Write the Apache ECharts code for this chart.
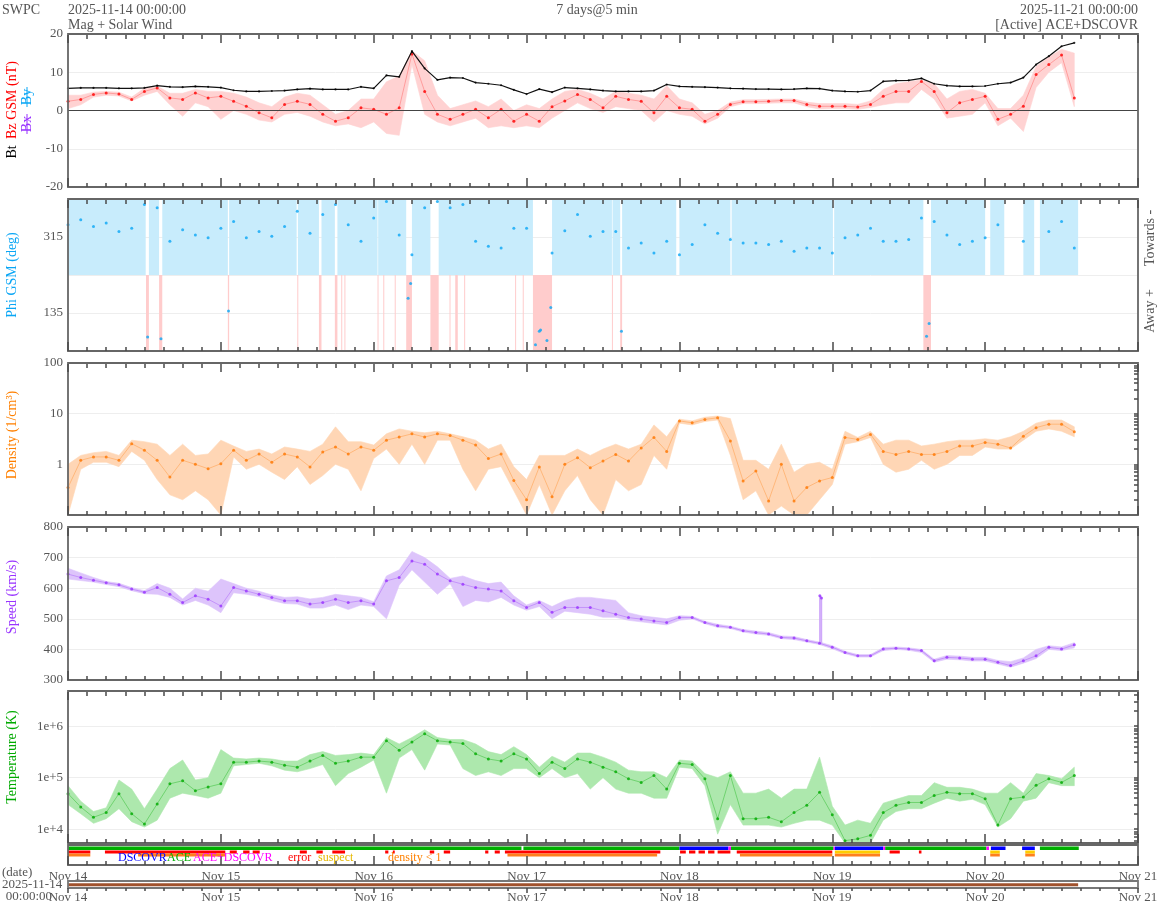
<!DOCTYPE html>
<html><head><meta charset="utf-8">
<script src="https://cdn.jsdelivr.net/npm/echarts@6/dist/echarts.min.js"></script>
<style>html,body{margin:0;padding:0;background:#fff}#c{width:1158px;height:905px}</style>
</head><body><div id="c"></div>
<script>
// ---------- DATA (hours since 2025-11-14 00:00, 2-hour samples) ----------
const hours = [0,2,4,6,8,10,12,14,16,18,20,22,24,26,28,30,32,34,36,38,40,42,44,46,48,50,52,54,56,58,60,62,64,66,68,70,72,74,76,78,80,82,84,86,88,90,92,94,96,98,100,102,104,106,108,110,112,114,116,118,120,122,124,126,128,130,132,134,136,138,140,142,144,146,148,150,152,154,156,158];
const dayLabels = ['Nov 14','Nov 15','Nov 16','Nov 17','Nov 18','Nov 19','Nov 20','Nov 21'];
const dayTicks = [0,24,48,72,96,120,144,168];
const hourTicks = [3,6,9,12,15,18,21,27,30,33,36,39,42,45,51,54,57,60,63,66,69,75,78,81,84,87,90,93,99,102,105,108,111,114,117,123,126,129,132,135,138,141,147,150,153,156,159,162,165];

const btVals = [5.8,5.9,5.9,5.9,5.8,5.8,5.9,6.5,6.2,6.1, 6.3,6.2,6.0,5.3,5.0,5.0,5.1,5.2,5.5,5.7, 5.5,5.5,5.5,6.2,5.8,9.2,8.8,15.5,11.0,8.0, 8.6,8.5,7.3,7.0,6.6,5.4,4.3,5.6,4.8,6.0, 5.8,5.5,5.2,5.0,5.0,5.0,5.2,6.8,6.3,6.2, 6.1,6.0,5.8,5.7,5.6,5.6,5.5,5.6,5.8,5.7, 5.2,5.0,4.9,5.2,7.6,7.8,7.9,8.4,7.0,6.5, 6.3,6.3,6.4,7.0,7.3,8.6,12.0,14.2,16.8,17.7];
const bzVals = [2.4,2.9,4.2,4.6,4.3,2.9,5.0,5.9,3.3,2.9, 4.6,3.3,3.7,2.4,1.1,-0.6,-1.9,1.6,2.4,1.6, -1.0,-2.8,-1.9,0.7,0.3,-1.0,0.7,14.8,5.0,-1.0, -2.3,-1.0,0.3,-1.9,0.3,-2.8,-1.0,-2.8,1.0,2.5, 4.2,2.9,0.7,3.7,2.9,2.4,-0.6,3.7,0.7,0.3, -2.8,-1.0,1.6,2.3,2.3,2.4,2.6,2.6,1.6,1.1, 1.1,1.1,0.9,1.6,3.7,5.0,5.0,7.6,5.0,-0.6, 2.0,2.9,3.7,-2.3,-1.0,1.1,9.4,12.0,14.5,3.3];
const bzLo = [0.5,1.5,3.5,4.0,3.8,2.5,4.0,5.0,1.5,-1.5, 2.0,1.0,-2.3,0.0,-1.0,-2.5,-3.0,-1.0,-0.5,-1.5, -3.0,-4.0,-3.5,-4.5,-3.0,-6.0,-6.5,12.0,-1.0,-3.0, -4.0,-3.0,-2.0,-4.5,-4.0,-4.5,-4.0,-4.5,-2.0,0.0, 2.0,0.5,-0.5,1.0,0.5,0.0,-3.0,0.0,-1.0,-1.5, -3.5,-2.0,1.0,1.8,1.8,1.9,2.0,2.0,1.0,0.4, 0.5,0.5,0.3,0.8,1.5,2.0,2.0,5.5,3.0,-2.0, -1.5,-1.0,2.0,-4.0,-2.0,-5.5,6.0,10.0,12.5,1.0];
const bzHi = [4.0,4.0,4.8,5.0,4.8,3.5,5.8,6.4,4.5,4.5, 5.5,5.0,5.0,4.5,3.5,2.0,1.0,3.5,4.5,4.0, 1.5,-1.0,0.0,3.0,3.0,7.5,9.0,15.6,13.0,4.0, 0.5,1.5,2.5,1.0,3.0,0.0,1.5,0.5,3.0,5.0, 5.5,4.5,3.0,5.0,4.5,4.0,3.0,6.5,3.0,2.0, -1.0,0.0,2.2,2.8,2.8,2.9,3.0,3.0,2.2,1.8, 1.8,1.8,1.6,2.5,5.5,7.0,7.5,8.0,7.0,3.0, 5.0,5.5,4.5,0.5,0.5,4.0,11.5,14.0,16.0,15.0];

const phiVals = [344,356,340,348,328,336,392,384,305,332, 320,313,336,352,313,328,317,340,376,324, 368,392,344,305,360,399,320,273,384,399, 384,392,305,293,289,336,336,92,277,330, 368,317,328,328,289,301,277,305,273,297, 344,324,309,301,301,297,305,281,289,289, 277,313,320,336,305,305,309,360,352,320, 297,305,313,344,null,305,null,328,352,289];
const phiAwayT = [12.5,14.6,25.2,53.4,53.8,73.4,74.2,75.2,75.8,86.9,134.8,135.2];
const phiAwayV = [78,74,140,170,205,60,95,70,148,92,80,110];
const towardSpans = [[0,12.2],[12.7,14.3],[14.8,25.1],[25.3,35.9],[36.1,39.4],[39.8,41.9],[42.3,48.6],[48.7,53.1],[54.0,56.9],[58.2,73.0],[76.0,85.4],[85.5,86.7],[87.0,95.5],[96.0,104.0],[104.2,120.1],[120.3,134.3],[135.5,144.0],[144.8,147.0],[150.0,151.7],[152.6,158.6]];
const awaySpans = [[12.25,12.7],[14.3,14.8],[25.1,25.3],[36.0,36.15],[39.4,39.8],[41.9,42.3],[42.9,43.05],[43.4,43.55],[48.6,48.75],[49.5,49.65],[51.3,51.45],[53.1,54.0],[56.9,58.2],[59.9,60.05],[60.8,61.2],[62.2,62.35],[70.2,70.35],[71.4,71.55],[73.0,76.0],[85.4,85.55],[86.7,87.0],[134.3,135.5]];

const densVals = [0.35,1.2,1.4,1.4,1.2,2.55,1.9,1.2,0.56,1.2, 1.0,0.82,1.03,1.9,1.2,1.6,1.1,1.6,1.4,0.89, 1.75,2.2,1.6,2.2,1.9,3.0,3.45,4.0,3.45,4.0, 3.7,3.0,2.4,1.3,1.6,0.48,0.2,0.89,0.23,1.0, 1.35,0.86,1.16,1.57,1.16,2.1,3.4,1.8,7.2,6.6, 7.7,8.3,2.9,0.47,0.74,0.19,1.0,0.19,0.35,0.47, 0.55,3.4,3.1,3.9,1.8,1.57,1.8,1.57,1.57,1.8, 2.3,2.3,2.7,2.5,2.1,3.6,5.3,6.2,6.2,4.4];
const densLo = [0.1,0.8,1.1,1.1,0.9,1.8,1.2,0.5,0.25,0.2, 0.3,0.2,0.1,1.4,0.8,1.0,0.7,0.5,0.9,0.4, 0.6,1.0,0.8,0.3,1.3,2.0,1.0,2.5,1.0,3.0, 3.0,0.8,0.3,0.8,0.9,0.3,0.1,0.4,0.1,0.3, 0.6,0.2,0.1,0.5,0.3,0.4,1.5,0.8,6.5,6.0, 7.0,7.5,1.5,0.2,0.3,0.1,0.15,0.1,0.1,0.2, 0.4,2.5,2.8,3.4,1.0,0.7,0.8,1.2,0.8,1.0, 1.5,1.5,2.2,2.0,2.0,3.0,4.5,5.0,4.5,3.5];
const densHi = [1.0,1.5,1.7,1.8,1.5,3.0,2.8,2.5,1.5,2.5, 1.5,1.6,3.0,2.3,1.8,2.0,1.6,2.2,2.0,1.8, 2.5,5.5,2.8,2.8,2.4,4.0,5.0,4.5,4.2,4.5, 4.0,3.5,3.0,2.0,2.5,0.9,0.5,1.5,1.5,1.5, 2.0,1.5,2.0,2.5,2.0,2.5,6.0,3.5,7.8,7.2, 8.5,9.0,8.0,1.2,1.2,0.8,2.5,0.7,1.0,1.1, 0.8,4.5,3.4,4.5,2.5,3.0,3.0,2.3,2.5,2.8, 3.0,3.0,3.2,3.0,3.5,4.5,6.5,7.5,7.5,5.5];

const speedVals = [646,635,626,618,611,597,587,602,580,553, 575,564,542,602,591,580,570,559,559,548, 553,564,553,559,548,624,635,689,678,646, 624,613,602,597,591,559,537,553,521,537, 537,537,526,515,504,499,493,488,504,504, 488,477,472,461,455,450,439,437,428,420, 407,390,379,379,401,404,401,396,363,374, 372,368,368,358,347,363,379,407,401,415];
const speedLo = [630,625,620,612,605,592,582,580,570,545, 560,545,520,585,580,572,560,550,548,535, 535,545,530,545,540,500,610,660,620,580, 615,540,560,555,570,545,528,540,500,525, 520,515,505,505,495,490,485,480,495,500, 484,472,468,457,450,446,435,432,424,416, 402,386,375,375,396,400,397,390,358,368, 366,362,362,352,342,355,370,400,396,405];
const speedHi = [665,650,635,622,616,602,592,615,600,565, 600,590,630,615,600,590,578,570,572,565, 570,580,575,570,556,640,660,720,700,670, 632,640,625,615,620,575,545,560,540,560, 570,570,565,560,520,510,505,500,510,508, 492,482,476,465,460,455,444,442,432,424, 412,394,383,383,406,408,405,400,368,380, 378,374,374,364,360,372,400,412,408,422];
// short-lived speed spike near Nov 18 22:10
const speedSpikeT = [118.05, 118.05, 118.3, 118.3];
const speedSpikeV = [421, 575, 568, 418];

const tempVals = [4.9e4,2.7e4,1.7e4,2.1e4,4.9e4,2.0e4,1.26e4,3.1e4,7.6e4,8.7e4, 5.6e4,6.6e4,7.6e4,2.0e5,2.0e5,2.1e5,2.0e5,1.74e5,1.6e5,2.1e5, 2.7e5,1.9e5,2.1e5,2.5e5,2.5e5,5.2e5,3.4e5,4.9e5,7.1e5,5.2e5, 4.9e5,4.6e5,2.9e5,2.3e5,2.1e5,2.9e5,2.3e5,1.2e5,2.0e5,1.5e5, 2.3e5,2.0e5,1.6e5,1.3e5,9.5e4,8.1e4,1.1e5,6.0e4,1.9e5,1.8e5, 9.5e4,1.6e4,1.1e5,1.6e4,1.6e4,1.7e4,1.4e4,2.1e4,2.9e4,5.2e4, 1.9e4,6.0e3,6.5e3,7.6e3,2.1e4,2.9e4,3.3e4,3.3e4,4.5e4,5.2e4, 4.9e4,4.9e4,3.9e4,1.2e4,3.9e4,4.2e4,7.1e4,9.5e4,8.1e4,1.1e5];
const tempLo = [3.0e4,2.0e4,1.3e4,1.6e4,2.5e4,1.4e4,1.1e4,1.5e4,4.0e4,5.0e4, 4.5e4,4.0e4,5.0e4,1.7e5,1.8e5,1.9e5,1.7e5,1.4e5,1.3e5,1.5e5, 1.8e5,7.0e4,1.2e5,1.6e5,2.2e5,5.0e4,2.4e5,3.5e5,1.4e5,4.5e5, 4.3e5,1.5e5,1.1e5,1.3e5,1.1e5,1.5e5,1.5e5,1.0e5,1.5e5,1.0e5, 1.2e5,6.0e4,1.0e5,6.0e4,5.0e4,5.0e4,4.0e4,4.0e4,1.6e5,1.5e5, 7.0e4,8.0e3,3.0e4,1.2e4,1.2e4,1.2e4,1.1e4,1.3e4,1.5e4,1.5e4, 1.2e4,4.0e3,4.0e3,5.0e3,1.5e4,2.2e4,2.5e4,2.5e4,3.2e4,4.0e4, 3.5e4,3.8e4,3.0e4,1.1e4,1.6e4,3.5e4,4.0e4,8.0e4,7.0e4,7.0e4];
const tempHi = [7.0e4,3.5e4,2.2e4,2.6e4,9.0e4,6.0e4,2.5e4,6.0e4,1.5e5,2.2e5, 9.0e4,1.0e5,3.5e5,2.4e5,2.3e5,2.4e5,2.3e5,2.1e5,2.1e5,2.8e5, 3.2e5,2.7e5,2.8e5,3.0e5,2.8e5,6.0e5,4.5e5,6.0e5,8.5e5,6.0e5, 5.5e5,5.5e5,4.5e5,3.2e5,2.8e5,4.0e5,2.8e5,1.6e5,2.6e5,2.0e5, 3.0e5,3.0e5,2.5e5,2.0e5,1.4e5,1.3e5,1.3e5,1.0e5,2.2e5,2.1e5, 1.2e5,1.0e5,1.3e5,5.0e4,5.0e4,6.0e4,4.0e4,6.0e4,6.0e4,2.5e5, 2.8e4,1.2e4,1.5e4,1.3e4,3.2e4,3.8e4,4.5e4,4.5e4,8.0e4,6.5e4, 6.5e4,6.0e4,5.0e4,5.0e4,8.0e4,5.0e4,1.2e5,1.1e5,9.5e4,1.6e5];

// source / quality flag spans (hours)
const srcACE = [[0,71.2],[71.5,96],[104.1,120.2],[128.3,144.2],[152.6,158.7]];
const srcDSCOVR = [[96,103.7],[120.4,128],[144.9,147.2],[149.8,151.8]];
const srcBoth = [[103.7,104.1],[120.2,120.4],[128,128.3],[144.2,144.6]];
const errorSpans = [[0,3.5],[5.8,24.7],[25.4,26.5],[27.5,28.5],[29,30.1],[36.4,37.5],[39,40],[41.5,43.5],[49.8,50.3],[51,51.3],[56.8,57.5],[59,60],[65.5,66],[67,67.8],[68.6,93],[96.1,97],[97.5,98.5],[99,100],[100.5,101.5],[102,104],[105,120],[129,130.6],[133.6,134]];
const suspectSpans = [[120.4,127.5],[144.8,146.3],[150.3,151.8]];
const lowDensSpans = [[0,3.5],[11,24.7],[69,92.5],[105.5,120],[120.4,127.5],[144.8,146.3],[150.3,151.8]];
const dateCoverage = [0, 158.6];

const densTicks = [0.2,0.3,0.4,0.5,0.6,0.7,0.8,0.9,1,2,3,4,5,6,7,8,9,10,20,30,40,50,60,70,80,90];
const tempTicks = [6e3,7e3,8e3,9e3,1e4,2e4,3e4,4e4,5e4,6e4,7e4,8e4,9e4,1e5,2e5,3e5,4e5,5e5,6e5,7e5,8e5,9e5,1e6,2e6,3e6,4e6];

// ---------- CHART ----------
const FONT = 'Liberation Serif';
const GREY = '#555';
const panels = [
  {top:34, height:153}, {top:199, height:152}, {top:363, height:152},
  {top:527, height:153}, {top:691, height:152}, {top:845, height:20}, {top:881, height:7}
];
const gridBase = {left:68, width:1070, containLabel:false, outerBoundsMode:'none', backgroundColor:'transparent'};
const grids = panels.map((p, i) => Object.assign({}, gridBase, {top:p.top, height:p.height, show:true, z:10,
  borderColor: i===6 ? '#777' : '#666', borderWidth: 1.8}));

const noLine = {show:false, onZero:false};
const tickStyle = {color:'#4a4a4a', width:1.5};
const xAxes = [];
const yAxes = [];
const hidden = (gi, extra) => Object.assign({gridIndex:gi, type:'value', show:false, min:0, max:1, axisLine:noLine}, extra||{});

// main x axes: bottom edge, day ticks (+ labels under the source strip and the date strip)
panels.forEach((p, gi) => {
  const isDate = gi === 6;
  const labelled = gi >= 5;
  xAxes.push({type:'value', gridIndex:gi, min:0, max:168, z:12, position:'bottom',
    axisLine:noLine, splitLine:{show:false},
    axisTick:{show:true, inside:!isDate, length:isDate?5:9, customValues:dayTicks, lineStyle:tickStyle},
    axisLabel: labelled ? {show:true, color:GREY, fontFamily:FONT, fontSize:13, margin: gi===5 ? 5 : 3,
      hideOverlap:false, customValues:dayTicks, formatter: v => dayLabels[Math.round(v/24)] || ''} : {show:false}
  });
});

// extra 1px strips carrying the remaining tick marks (top edges, and 3-hour minor ticks)
const strips = [];
panels.forEach((p, gi) => {
  if (gi <= 4) {
    strips.push({top:p.top, values:dayTicks, inside:false, length:8});
    strips.push({top:p.top, values:hourTicks, inside:false, length:4});
    strips.push({top:p.top + p.height - 1, values:hourTicks, inside:true, length:4});
  } else if (gi === 5) {
    strips.push({top:p.top + p.height - 1, values:hourTicks, inside:true, length:4});
  } else {
    strips.push({top:p.top + p.height - 1, values:hourTicks, inside:false, length:3});
  }
});
const stripGrids = strips.map(s => Object.assign({}, gridBase, {top:s.top, height:1, show:false}));
const allGrids = grids.concat(stripGrids);
strips.forEach((s, k) => {
  const gIndex = panels.length + k;
  xAxes.push({type:'value', gridIndex:gIndex, min:0, max:168, z:12, position:'bottom',
    axisLine:noLine, splitLine:{show:false}, axisLabel:{show:false},
    axisTick:{show:true, inside:s.inside, length:s.length, customValues:s.values, lineStyle:tickStyle}});
});

const lab = (extra) => Object.assign({show:true, color:GREY, fontFamily:FONT, fontSize:13, margin:5, hideOverlap:false}, extra||{});
const split = {show:true, lineStyle:{color:'#eeeeee', width:1}};
const isPow10 = v => { const e = Math.log10(v); return Math.abs(e - Math.round(e)) < 1e-6; };

yAxes.push(
  {gridIndex:0, type:'value', min:-20, max:20, interval:10, axisLine:noLine, axisTick:{show:false}, axisLabel:lab(), splitLine:split},
  hidden(0),
  {gridIndex:1, type:'value', min:45, max:405, interval:90, axisLine:noLine, axisTick:{show:false},
    axisLabel:lab({formatter: v => (v===135 || v===315) ? String(v) : ''}), splitLine:split},
  hidden(1),
  {gridIndex:2, type:'log', logBase:10, min:0.1, max:100, axisLine:noLine, axisTick:{show:false},
    axisLabel:lab({formatter: v => v >= 1 ? String(Math.round(v)) : ''}), splitLine:split},
  {gridIndex:2, type:'log', logBase:10, min:0.1, max:100, position:'right', z:12, axisLine:noLine, axisLabel:{show:false}, splitLine:{show:false},
    axisTick:{show:true, inside:true, length:4, customValues:densTicks, lineStyle:tickStyle}},
  {gridIndex:3, type:'value', min:300, max:800, interval:100, axisLine:noLine, axisTick:{show:false}, axisLabel:lab(), splitLine:split},
  hidden(3),
  {gridIndex:4, type:'log', logBase:10, min:5400, max:4.8e6, axisLine:noLine, axisTick:{show:false},
    axisLabel:lab({formatter: v => isPow10(v) ? '1e+' + Math.round(Math.log10(v)) : ''}), splitLine:split},
  {gridIndex:4, type:'log', logBase:10, min:5400, max:4.8e6, position:'right', z:12, axisLine:noLine, axisLabel:{show:false}, splitLine:{show:false},
    axisTick:{show:true, inside:true, length:4, customValues:tempTicks, lineStyle:tickStyle}},
  hidden(5, {min:0, max:20, inverse:true}),
  hidden(5),
  hidden(6),
  hidden(6)
);
strips.forEach((s, k) => yAxes.push(hidden(panels.length + k)));

const pairs = vals => hours.map((t, i) => [t, vals[i]]).filter(p => p[1] !== null && p[1] !== undefined);
const ax = gi => ({xAxisIndex:gi, yAxisIndex:2*gi});

function band(gi, lo, hi, fill) {
  return Object.assign(ax(gi), {
    type:'custom', silent:true, z:1, animation:false,
    data:[[hours[0], hi[0]]],
    renderItem: function (params, api) {
      const top = [], bot = [];
      for (let i = 0; i < hours.length; i++) {
        if (lo[i] == null || hi[i] == null) continue;
        top.push(api.coord([hours[i], hi[i]]));
        bot.push(api.coord([hours[i], lo[i]]));
      }
      const cs = params.coordSys;
      const pts = top.concat(bot.reverse()).map(p => [
        Math.min(Math.max(p[0], cs.x), cs.x + cs.width),
        Math.min(Math.max(p[1], cs.y), cs.y + cs.height)]);
      return {type:'polygon', shape:{points:pts}, style:{fill:fill, stroke:fill, lineWidth:0.6}};
    }
  });
}

function spans(gi, list, y0, y1, color, z) {
  return Object.assign(ax(gi), {
    type:'custom', silent:true, z:z||1, animation:false,
    data:list,
    renderItem: function (params, api) {
      const a = api.coord([api.value(0), y0]);
      const b = api.coord([api.value(1), y1]);
      const cs = params.coordSys;
      const x0 = Math.max(a[0], cs.x), x1 = Math.min(b[0], cs.x + cs.width);
      return {type:'rect', shape:{x:x0, y:Math.min(a[1], b[1]), width:Math.max(x1 - x0, 1), height:Math.abs(b[1] - a[1])},
        style:{fill:color}};
    }
  });
}

const dots = (gi, data, color, size, z) => Object.assign(ax(gi), {type:'scatter', data:data,
  symbol:'circle', symbolSize:size, itemStyle:{color:color}, silent:true, z:z||4, animation:false});
const thin = (gi, data, color, w, z) => Object.assign(ax(gi), {type:'line', data:data, showSymbol:false,
  lineStyle:{color:color, width:w}, silent:true, z:z||3, animation:false});

const spikePts = speedSpikeT.map((t, i) => [t, speedSpikeV[i]]);

const series = [
  band(0, bzLo, bzHi, '#ffd2d2'),
  thin(0, pairs(bzVals), 'rgba(255,60,60,0.45)', 0.8),
  dots(0, pairs(bzVals), '#ff0000', 3),
  Object.assign(thin(0, pairs(btVals), '#111', 1.2, 5), {markLine:{silent:true, symbol:'none', label:{show:false},
    lineStyle:{color:'#444', width:1, type:'solid'}, data:[{yAxis:0}]}}),
  dots(0, pairs(btVals), '#000', 2.2, 6),

  spans(1, towardSpans, 225, 405, '#c8ecfc'),
  spans(1, awaySpans, 45, 225, '#ffcccc'),
  dots(1, pairs(phiVals).concat(phiAwayT.map((t, i) => [t, phiAwayV[i]])), '#0aa6f5', 3),

  band(2, densLo, densHi, '#ffd6b5'),
  thin(2, pairs(densVals), 'rgba(255,130,20,0.45)', 0.8),
  dots(2, pairs(densVals), '#ff7700', 3),

  band(3, speedLo, speedHi, '#ddc4fb'),
  thin(3, pairs(speedVals), 'rgba(150,60,250,0.45)', 0.8),
  thin(3, spikePts, '#cfa8fa', 1.5),
  dots(3, pairs(speedVals).concat([spikePts[1], spikePts[2]]), '#9933ff', 3),

  band(4, tempLo, tempHi, '#ade8ad'),
  thin(4, pairs(tempVals), 'rgba(0,170,0,0.45)', 0.8),
  dots(4, pairs(tempVals), '#00aa00', 3),

  spans(5, srcACE, 1.5, 5, '#00b000'),
  spans(5, srcDSCOVR, 1.5, 5, '#0000ff'),
  spans(5, srcBoth, 1.5, 5, '#ff00ff'),
  spans(5, errorSpans, 5.5, 8.5, '#ff0000'),
  spans(5, suspectSpans, 5.5, 8.5, '#ffcc00', 2),
  spans(5, lowDensSpans, 8.5, 11.5, '#ff7f1e'),

  thin(6, [[dateCoverage[0], 0.45],[dateCoverage[1], 0.45]], '#a0522d', 3)
];

const T = (text, x, y, color, opts) => Object.assign({type:'text', x:x, y:y, silent:true, z:100,
  style:Object.assign({text:text, fill:color||GREY, font:'14px "' + FONT + '"', textAlign:'left', textVerticalAlign:'middle'}, (opts&&opts.style)||{})},
  opts && opts.rotation ? {rotation:opts.rotation} : {});
const V = (text, x, y, color) => T(text, x, y, color, {rotation:Math.PI/2, style:{textAlign:'center'}});
const small = (text, x, y, color) => T(text, x, y, color, {style:{font:'12px "' + FONT + '"'}});

const graphic = [
  T('SWPC', 2, 10),
  T('2025-11-14 00:00:00', 68, 10),
  T('Mag + Solar Wind', 68, 25),
  T('7 days@5 min', 597, 10, GREY, {style:{textAlign:'center'}}),
  T('2025-11-21 00:00:00', 1138, 10, GREY, {style:{textAlign:'right'}}),
  T('[Active] ACE+DSCOVR', 1138, 25, GREY, {style:{textAlign:'right'}}),
  V('Bt', 12, 152, '#000'),
  V('Bz GSM (nT)', 12, 100, '#ff0000'),
  V('Bx', 27, 124, '#9933ff'),
  V('By', 27, 97, '#0aa6f5'),
  {type:'line', silent:true, z:101, shape:{x1:27, y1:114, x2:27, y2:134}, style:{stroke:'#9933ff', lineWidth:1}},
  {type:'line', silent:true, z:101, shape:{x1:27, y1:87, x2:27, y2:107}, style:{stroke:'#0aa6f5', lineWidth:1}},
  V('Phi GSM (deg)', 12, 275, '#0aa6f5'),
  V('Towards -', 1150, 238, GREY),
  V('Away +', 1150, 311, GREY),
  V('Density (1/cm\u00b3)', 12, 435, '#ff8000'),
  V('Speed (km/s)', 12, 597, '#9933ff'),
  V('Temperature (K)', 12, 757, '#00aa00'),
  small('DSCOVR', 118, 858, '#0000ff'),
  small('ACE', 167, 858, '#00b000'),
  small('ACE+DSCOVR', 193, 858, '#ff00ff'),
  small('error', 288, 858, '#ff0000'),
  small('suspect', 318, 858, '#e6b800'),
  small('density < 1', 388, 858, '#ff8000'),
  T('(date)', 2, 873, GREY, {style:{font:'13px "' + FONT + '"'}}),
  T('2025-11-14', 2, 885, GREY, {style:{font:'13px "' + FONT + '"'}}),
  T('00:00:00', 52, 897, GREY, {style:{font:'13px "' + FONT + '"', textAlign:'right'}})
];

const chart = echarts.init(document.getElementById('c'), null, {renderer:'canvas'});
chart.setOption({
  animation:false,
  backgroundColor:'#fff',
  textStyle:{fontFamily:FONT},
  grid:allGrids, xAxis:xAxes, yAxis:yAxes, series:series, graphic:graphic
});
</script></body></html>
